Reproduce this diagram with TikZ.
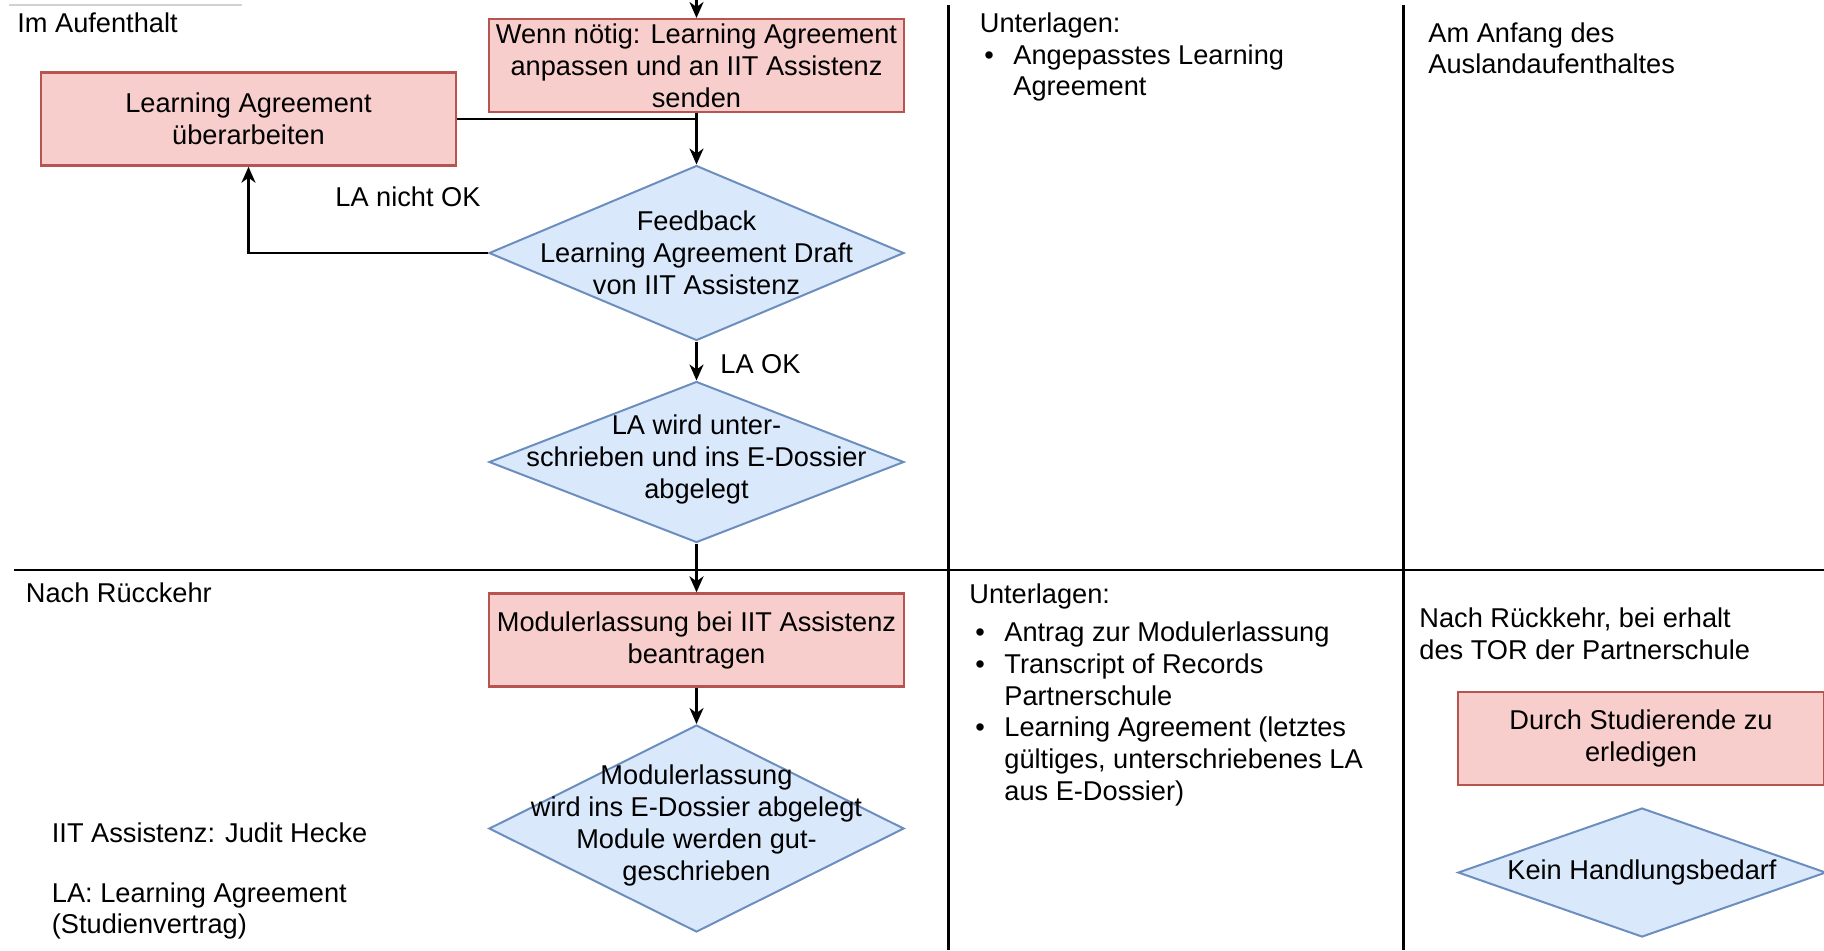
\documentclass[tikz,border=0pt]{standalone}
\usepackage{fontspec}
\setmainfont{Liberation Sans}
\usetikzlibrary{shapes.geometric,arrows.meta}
\definecolor{redfill}{HTML}{F8CECC}
\definecolor{redline}{HTML}{B85450}
\definecolor{bluefill}{HTML}{DAE8FC}
\definecolor{blueline}{HTML}{6C8EBF}
\newcommand{\dfont}{\fontsize{13.6}{16}\selectfont}
\tikzset{
  redbox/.style={draw=redline, fill=redfill, line width=1.2pt, rectangle,
    minimum width=207.5pt, minimum height=46.5pt, inner sep=1pt, align=center, font=\dfont},
  bluedia/.style={draw=blueline, fill=bluefill, line width=1pt, diamond,
    minimum width=207.5pt, inner sep=0pt},
  dtext/.style={align=center, font=\dfont, inner sep=0pt},
  lbl/.style={inner sep=0pt, font=\dfont, anchor=base west},
  arr/.style={-{Stealth[length=8pt,width=7pt,inset=2.5pt]}, line width=1.3pt},
  conn/.style={line width=1.3pt},
  sep/.style={line width=1.1pt}
}
\begin{document}
\begin{tikzpicture}[x=0.5pt,y=-0.5pt]
\useasboundingbox (0,0) rectangle (1824,950);
% lane separators
\draw[gray!35, line width=0.6pt] (9,5) -- (242,5);
\draw[sep] (948.5,5) -- (948.5,950);
\draw[sep] (1403.5,5) -- (1403.5,950);
\draw[sep] (14,570) -- (1824,570);

% labels
\node[lbl] (imauf) at (17,32) {Im Aufenthalt};
\node[lbl] (nachr) at (25.5,602) {Nach Rücckehr};
\node[lbl] (iit) at (51.5,842) {IIT Assistenz: Judit Hecke};
\node[lbl] (la1) at (51.5,902) {LA: Learning Agreement};
\node[lbl] (la2) at (51.5,933.5) {(Studienvertrag)};

\node[lbl] (unt1) at (979.5,32) {Unterlagen:};
\node[lbl] (b1) at (984,64) {\textbullet};
\node[lbl] (u1a) at (1013,64) {Angepasstes Learning};
\node[lbl] (u1b) at (1013,95.5) {Agreement};

\node[lbl] (am1) at (1428,42) {Am Anfang des};
\node[lbl] (am2) at (1428,73.5) {Auslandaufenthaltes};

\node[lbl] (unt2) at (969,603) {Unterlagen:};
\node[lbl] (b2) at (975,641.5) {\textbullet};
\node[lbl] (u2a) at (1004,641.5) {Antrag zur Modulerlassung};
\node[lbl] (b3) at (975,673.3) {\textbullet};
\node[lbl] (u2b) at (1004,673.3) {Transcript of Records};
\node[lbl] (u2c) at (1004,705.1) {Partnerschule};
\node[lbl] (b4) at (975,736.9) {\textbullet};
\node[lbl] (u2d) at (1004,736.9) {Learning Agreement (letztes};
\node[lbl] (u2e) at (1004,768.7) {gültiges, unterschriebenes LA};
\node[lbl] (u2f) at (1004,800.5) {aus E-Dossier)};

\node[lbl] (nr1) at (1419,627.5) {Nach Rückkehr, bei erhalt};
\node[lbl] (nr2) at (1419,659) {des TOR der Partnerschule};

% flow nodes
\coordinate (top) at (696.5,0);
\node[redbox] (wenn) at (696.5,65.7) {Wenn nötig: Learning Agreement\\anpassen und an IIT Assistenz\\senden};
\node[redbox] (lau) at (248.5,119) {Learning Agreement\\überarbeiten};
\node[bluedia, minimum height=87.5pt] (fb) at (696.5,253) {};
\node[dtext] (fbt) at (fb) {Feedback\\Learning Agreement Draft\\von IIT Assistenz};
\node[bluedia, minimum height=80.5pt] (sig) at (696.5,462) {};
\node[dtext] (sigt) at (696.5,459) {LA wird unter-\\schrieben und ins E-Dossier\\abgelegt};
\node[redbox] (mod) at (696.5,640) {Modulerlassung bei IIT Assistenz\\beantragen};
\node[bluedia, minimum height=103.5pt] (gut) at (696.5,828.5) {};
\node[dtext] (gutt) at (696.5,825.5) {Modulerlassung\\wird ins E-Dossier abgelegt\\Module werden gut-\\geschrieben};

\node[redbox, minimum width=183pt] (durch) at (1641,738.7) {Durch Studierende zu\\erledigen};
\node[bluedia, minimum width=184pt, minimum height=64.5pt] (kein) at (1642,872.5) {};
\node[dtext] (keint) at (kein) {Kein Handlungsbedarf};

% connectors
\draw[arr] (top) -- (wenn.north);
\draw[conn] (lau.east) -- (lau.east -| fb.north);
\draw[arr] (wenn.south) -- (fb.north);
\draw[arr] (fb.west) -| (lau.south);
\draw[arr] (fb.south) -- (sig.north);
\draw[arr] (sig.south) -- (mod.north);
\draw[arr] (mod.south) -- (gut.north);

\node[lbl] (nok) at (335,206) {LA nicht OK};
\node[lbl] (ok) at (720,373) {LA OK};
\end{tikzpicture}
\end{document}
